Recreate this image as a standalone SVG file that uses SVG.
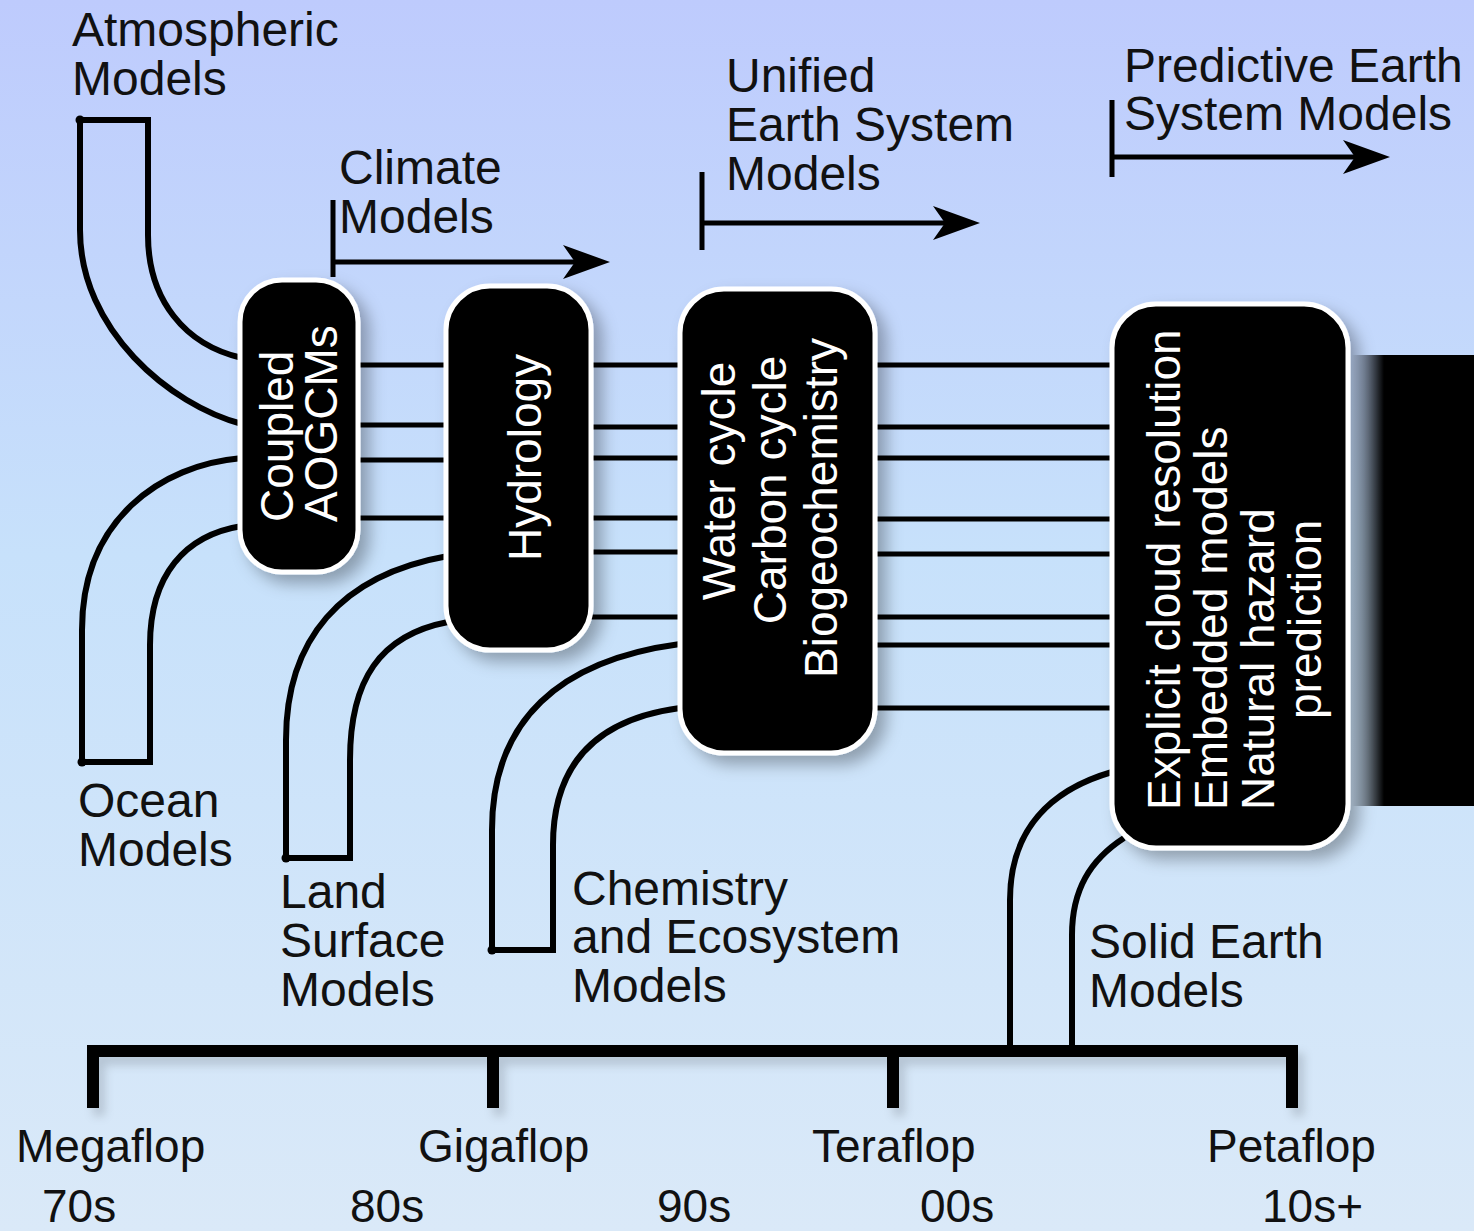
<svg xmlns="http://www.w3.org/2000/svg" width="1474" height="1231" viewBox="0 0 1474 1231">
  <defs>
    <linearGradient id="sky" x1="0" y1="0" x2="0" y2="1">
      <stop offset="0" stop-color="#becbfd"/>
      <stop offset="0.45" stop-color="#c7e1fb"/>
      <stop offset="1" stop-color="#dae9f8"/>
    </linearGradient>
    <linearGradient id="barFade" gradientUnits="userSpaceOnUse" x1="1352" y1="0" x2="1384" y2="0">
      <stop offset="0" stop-color="#000" stop-opacity="0"/>
      <stop offset="1" stop-color="#000"/>
    </linearGradient>
    <filter id="boxShadow" x="-20%" y="-20%" width="150%" height="150%">
      <feDropShadow dx="9" dy="9" stdDeviation="8" flood-color="#000" flood-opacity="0.3"/>
    </filter>
    <filter id="lineShadow" x="-5%" y="-50%" width="110%" height="250%">
      <feDropShadow dx="6" dy="8" stdDeviation="5" flood-color="#000" flood-opacity="0.15"/>
    </filter>
    <marker id="head" markerUnits="userSpaceOnUse" viewBox="-20 -20 55 40" markerWidth="55" markerHeight="40" refX="0" refY="0" orient="auto">
      <path d="M30,0 L-17,-17 L-5,0 L-17,17 Z" fill="#000"/>
    </marker>
  </defs>
  <style>
    .lbl { font-family: "Liberation Sans", Arial, Helvetica, sans-serif; font-size: 48px; fill: #111; }
    .ax { font-size: 46px; }
    .box { fill: #000; stroke: #fff; stroke-width: 5; filter: url(#boxShadow); }
    .btxt { font-family: "Liberation Sans", Arial, Helvetica, sans-serif; font-size: 46px; fill: #fff; }
    .pipe { fill: none; stroke: #000; stroke-width: 6; }
    .link { stroke: #000; stroke-width: 5; }
    .span { stroke: #000; stroke-width: 5; fill: none; }
    .axis { stroke: #000; stroke-width: 12; fill: none; filter: url(#lineShadow); }
  </style>

  <!-- backdrop -->
  <rect x="0" y="0" width="1474" height="1231" fill="url(#sky)"/>

  <!-- connectors: straight couplings and model pipes -->
  <g id="connectors">
    <g id="links">
      <path class="link" d="M356,365 H448 M356,425 H448 M356,460 H448 M356,518 H448"/>
      <path class="link" d="M590,365 H680 M590,427 H680 M590,458 H680 M590,518 H680 M590,552 H680 M590,617 H680"/>
      <path class="link" d="M875,365 H1112 M875,427 H1112 M875,458 H1112 M875,519 H1112 M875,554 H1112 M875,617 H1112 M875,645 H1112 M875,708 H1112"/>
    </g>
    <g id="pipes">
      <path class="pipe" d="M242,424 C170,405 80,330 80,230 V120 H148 V235 C148,300 185,345 242,358"/>
      <path class="pipe" d="M242,458 C160,465 82,520 82,630 V762 H150 V645 C150,575 185,535 242,526"/>
      <path class="pipe" d="M448,556 C340,575 286,640 286,740 V858 H350 V760 C350,680 380,635 448,622"/>
      <path class="pipe" d="M680,644 C560,660 492,720 492,830 V950 H553 V845 C553,770 590,720 680,708"/>
      <path class="pipe" d="M1112,772 C1050,790 1010,830 1010,900 V1046"/>
      <path class="pipe" d="M1124,838 C1090,860 1072,890 1072,935 V1046"/>
      <circle cx="80" cy="120" r="4.5"/>
      <circle cx="82" cy="762" r="4.5"/>
      <circle cx="286" cy="858" r="4.5"/>
      <circle cx="492" cy="950" r="4.5"/>
    </g>
    <g id="eras">
      <path class="span" d="M333,200 V277 M333,262 H580" marker-end="url(#head)"/>
      <path class="span" d="M702,172 V250 M702,223 H950" marker-end="url(#head)"/>
      <path class="span" d="M1112,100 V177 M1112,157 H1360" marker-end="url(#head)"/>
    </g>
  </g>

  <!-- continuation bar on the right -->
  <rect id="future-bar" x="1352" y="355" width="122" height="451" fill="url(#barFade)"/>

  <g id="coupled-aogcms">
    <rect class="box" x="240" y="280" width="118" height="292" rx="42"/>
    <text class="btxt" transform="translate(293,522) rotate(-90)">Coupled</text>
    <text class="btxt" transform="translate(337,522) rotate(-90)">AOGCMs</text>
  </g>

  <g id="hydrology">
    <rect class="box" x="446" y="286" width="145" height="364" rx="44"/>
    <text class="btxt" transform="translate(541,561) rotate(-90)">Hydrology</text>
  </g>

  <g id="biogeochemistry">
    <rect class="box" x="680" y="289" width="195" height="464" rx="44"/>
    <text class="btxt" text-anchor="middle" transform="translate(735,481) rotate(-90)">Water cycle</text>
    <text class="btxt" text-anchor="middle" transform="translate(786,490) rotate(-90)">Carbon cycle</text>
    <text class="btxt" text-anchor="middle" transform="translate(837,508) rotate(-90)">Biogeochemistry</text>
  </g>

  <g id="predictive">
    <rect class="box" x="1112" y="304" width="236" height="544" rx="44"/>
    <text class="btxt" transform="translate(1180,810) rotate(-90)">Explicit cloud resolution</text>
    <text class="btxt" transform="translate(1227,810) rotate(-90)">Embedded models</text>
    <text class="btxt" transform="translate(1274,810) rotate(-90)">Natural hazard</text>
    <text class="btxt" transform="translate(1321,719) rotate(-90)">prediction</text>
  </g>

  <g id="atmospheric-models">
    <text class="lbl" x="72" y="46">Atmospheric</text>
    <text class="lbl" x="72" y="95">Models</text>
  </g>
  <g id="climate-models">
    <text class="lbl" x="339" y="184">Climate</text>
    <text class="lbl" x="339" y="233">Models</text>
  </g>
  <g id="unified-models">
    <text class="lbl" x="726" y="92">Unified</text>
    <text class="lbl" x="726" y="141">Earth System</text>
    <text class="lbl" x="726" y="190">Models</text>
  </g>
  <g id="predictive-models">
    <text class="lbl" x="1124" y="82">Predictive Earth</text>
    <text class="lbl" x="1124" y="130">System Models</text>
  </g>
  <g id="ocean-models">
    <text class="lbl" x="78" y="817">Ocean</text>
    <text class="lbl" x="78" y="866">Models</text>
  </g>
  <g id="land-models">
    <text class="lbl" x="280" y="908">Land</text>
    <text class="lbl" x="280" y="957">Surface</text>
    <text class="lbl" x="280" y="1006">Models</text>
  </g>
  <g id="chemistry-models">
    <text class="lbl" x="572" y="905">Chemistry</text>
    <text class="lbl" x="572" y="953">and Ecosystem</text>
    <text class="lbl" x="572" y="1002">Models</text>
  </g>
  <g id="solid-earth-models">
    <text class="lbl" x="1089" y="958">Solid Earth</text>
    <text class="lbl" x="1089" y="1007">Models</text>
  </g>

  <!-- computing-power timeline -->
  <g id="timeline">
    <path class="axis" d="M93,1108 V1051 H1292 V1108 M493,1051 V1108 M893,1051 V1108"/>
    <text class="lbl ax" x="16" y="1162">Megaflop</text>
    <text class="lbl ax" x="418" y="1162">Gigaflop</text>
    <text class="lbl ax" x="812" y="1162">Teraflop</text>
    <text class="lbl ax" x="1207" y="1162">Petaflop</text>
    <text class="lbl ax" x="42" y="1222">70s</text>
    <text class="lbl ax" x="350" y="1222">80s</text>
    <text class="lbl ax" x="657" y="1222">90s</text>
    <text class="lbl ax" x="920" y="1222">00s</text>
    <text class="lbl ax" x="1262" y="1222">10s+</text>
  </g>
</svg>
